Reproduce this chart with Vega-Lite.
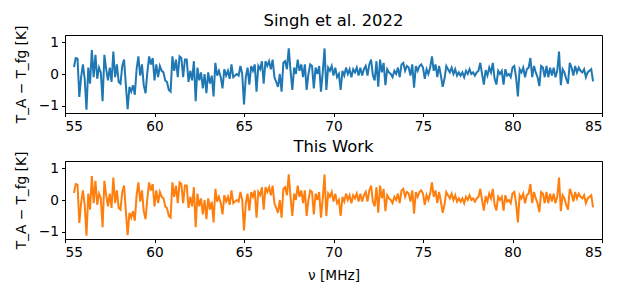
{
  "$schema": "https://vega.github.io/schema/vega-lite/v6.json",
  "padding": {"left": 13, "top": 12, "right": 5, "bottom": 5},
  "config": {
    "font": "DejaVu Sans",
    "background": "white",
    "view": {"stroke": "black", "strokeWidth": 1},
    "axis": {"grid": false, "domainColor": "black", "tickColor": "black", "labelColor": "black", "titleColor": "black", "labelFontSize": 13.7, "titleFontSize": 13.7, "titleFontWeight": "normal", "tickSize": 3.5, "labelPadding": 3, "domainWidth": 1, "tickWidth": 1},
    "title": {"fontSize": 16.4, "fontWeight": "normal", "color": "black", "offset": -4},
    "concat": {"spacing": 4}
  },
  "datasets": {
    "d": [
      {"nu":55.5,"v":0.22},{"nu":55.6,"v":0.5},{"nu":55.7,"v":0.48},{"nu":55.8,"v":-0.72},{"nu":55.9,"v":-0.1},{"nu":56.0,"v":0.3},{"nu":56.1,"v":-0.15},{"nu":56.2,"v":-1.12},{"nu":56.3,"v":0.2},{"nu":56.4,"v":-0.3},
      {"nu":56.5,"v":0.75},{"nu":56.6,"v":-0.1},{"nu":56.7,"v":0.6},{"nu":56.8,"v":-0.15},{"nu":56.9,"v":0.2},{"nu":57.0,"v":0.05},{"nu":57.1,"v":-0.85},{"nu":57.2,"v":0.6},{"nu":57.3,"v":0.15},{"nu":57.4,"v":-0.2},
      {"nu":57.5,"v":0.2},{"nu":57.6,"v":-0.25},{"nu":57.7,"v":0.7},{"nu":57.8,"v":-0.1},{"nu":57.9,"v":0.3},{"nu":58.0,"v":-0.25},{"nu":58.1,"v":-0.3},{"nu":58.2,"v":0.25},{"nu":58.3,"v":0.45},{"nu":58.4,"v":-0.35},
      {"nu":58.5,"v":-1.1},{"nu":58.6,"v":-0.4},{"nu":58.7,"v":-0.55},{"nu":58.8,"v":-0.35},{"nu":58.9,"v":-0.65},{"nu":59.0,"v":0.15},{"nu":59.1,"v":0.55},{"nu":59.2,"v":-0.05},{"nu":59.3,"v":0.3},{"nu":59.4,"v":-0.35},
      {"nu":59.5,"v":-0.6},{"nu":59.6,"v":0.05},{"nu":59.7,"v":0.55},{"nu":59.8,"v":0.3},{"nu":59.9,"v":0.5},{"nu":60.0,"v":-0.2},{"nu":60.1,"v":0.3},{"nu":60.2,"v":-0.1},{"nu":60.3,"v":0.25},{"nu":60.4,"v":0.1},
      {"nu":60.5,"v":0.05},{"nu":60.6,"v":-0.2},{"nu":60.7,"v":-0.25},{"nu":60.8,"v":-0.5},{"nu":60.9,"v":-0.55},{"nu":61.0,"v":0.55},{"nu":61.1,"v":0.1},{"nu":61.2,"v":0.45},{"nu":61.3,"v":-0.1},{"nu":61.4,"v":0.55},
      {"nu":61.5,"v":0.5},{"nu":61.6,"v":-0.1},{"nu":61.7,"v":0.45},{"nu":61.8,"v":0.45},{"nu":61.9,"v":-0.25},{"nu":62.0,"v":0.1},{"nu":62.1,"v":-0.2},{"nu":62.2,"v":0.4},{"nu":62.3,"v":-0.85},{"nu":62.4,"v":0.2},
      {"nu":62.5,"v":-0.2},{"nu":62.6,"v":0.05},{"nu":62.7,"v":-0.45},{"nu":62.8,"v":0.0},{"nu":62.9,"v":-0.6},{"nu":63.0,"v":0.05},{"nu":63.1,"v":-0.3},{"nu":63.2,"v":-0.05},{"nu":63.3,"v":-0.7},{"nu":63.4,"v":0.35},
      {"nu":63.5,"v":-0.05},{"nu":63.6,"v":0.1},{"nu":63.7,"v":-0.1},{"nu":63.8,"v":-0.45},{"nu":63.9,"v":0.15},{"nu":64.0,"v":-0.05},{"nu":64.1,"v":0.1},{"nu":64.2,"v":-0.15},{"nu":64.3,"v":0.3},{"nu":64.4,"v":-0.1},
      {"nu":64.5,"v":-0.05},{"nu":64.6,"v":0.0},{"nu":64.7,"v":-0.05},{"nu":64.8,"v":0.25},{"nu":64.9,"v":0.0},{"nu":65.0,"v":-0.95},{"nu":65.1,"v":-0.1},{"nu":65.2,"v":0.2},{"nu":65.3,"v":-0.33},{"nu":65.4,"v":0.25},
      {"nu":65.5,"v":0.1},{"nu":65.6,"v":0.3},{"nu":65.7,"v":-0.55},{"nu":65.8,"v":0.25},{"nu":65.9,"v":0.15},{"nu":66.0,"v":0.4},{"nu":66.1,"v":-0.3},{"nu":66.2,"v":0.4},{"nu":66.3,"v":0.25},{"nu":66.4,"v":0.4},
      {"nu":66.5,"v":0.15},{"nu":66.6,"v":0.45},{"nu":66.7,"v":-0.1},{"nu":66.8,"v":-0.25},{"nu":66.9,"v":-0.4},{"nu":67.0,"v":0.0},{"nu":67.1,"v":-0.55},{"nu":67.2,"v":0.35},{"nu":67.3,"v":0.4},{"nu":67.4,"v":0.15},
      {"nu":67.5,"v":0.8},{"nu":67.6,"v":0.1},{"nu":67.7,"v":-0.5},{"nu":67.8,"v":0.2},{"nu":67.9,"v":0.0},{"nu":68.0,"v":0.45},{"nu":68.1,"v":0.1},{"nu":68.2,"v":0.3},{"nu":68.3,"v":-0.1},{"nu":68.4,"v":0.3},
      {"nu":68.5,"v":-0.5},{"nu":68.6,"v":0.0},{"nu":68.7,"v":0.3},{"nu":68.8,"v":0.25},{"nu":68.9,"v":-0.45},{"nu":69.0,"v":0.2},{"nu":69.1,"v":0.0},{"nu":69.2,"v":0.25},{"nu":69.3,"v":-0.55},{"nu":69.4,"v":0.05},
      {"nu":69.5,"v":0.8},{"nu":69.6,"v":-0.5},{"nu":69.7,"v":0.2},{"nu":69.8,"v":0.1},{"nu":69.9,"v":0.25},{"nu":70.0,"v":-0.05},{"nu":70.1,"v":0.2},{"nu":70.2,"v":-0.1},{"nu":70.3,"v":0.0},{"nu":70.4,"v":-0.5},
      {"nu":70.5,"v":0.1},{"nu":70.6,"v":-0.05},{"nu":70.7,"v":0.2},{"nu":70.8,"v":0.0},{"nu":70.9,"v":0.15},{"nu":71.0,"v":-0.1},{"nu":71.1,"v":0.15},{"nu":71.2,"v":0.05},{"nu":71.3,"v":0.2},{"nu":71.4,"v":-0.05},
      {"nu":71.5,"v":0.2},{"nu":71.6,"v":-0.05},{"nu":71.7,"v":0.15},{"nu":71.8,"v":0.25},{"nu":71.9,"v":-0.05},{"nu":72.0,"v":0.3},{"nu":72.1,"v":0.45},{"nu":72.2,"v":-0.05},{"nu":72.3,"v":-0.2},{"nu":72.4,"v":0.4},
      {"nu":72.5,"v":-0.4},{"nu":72.6,"v":0.45},{"nu":72.7,"v":0.05},{"nu":72.8,"v":0.35},{"nu":72.9,"v":-0.35},{"nu":73.0,"v":0.15},{"nu":73.1,"v":0.05},{"nu":73.2,"v":0.0},{"nu":73.3,"v":-0.1},{"nu":73.4,"v":0.1},
      {"nu":73.5,"v":0.0},{"nu":73.6,"v":0.2},{"nu":73.7,"v":-0.1},{"nu":73.8,"v":0.3},{"nu":73.9,"v":0.35},{"nu":74.0,"v":0.1},{"nu":74.1,"v":0.25},{"nu":74.2,"v":0.2},{"nu":74.3,"v":-0.05},{"nu":74.4,"v":0.3},
      {"nu":74.5,"v":-0.43},{"nu":74.6,"v":0.25},{"nu":74.7,"v":0.1},{"nu":74.8,"v":0.25},{"nu":74.9,"v":0.3},{"nu":75.0,"v":0.2},{"nu":75.1,"v":-0.15},{"nu":75.2,"v":0.15},{"nu":75.3,"v":0.0},{"nu":75.4,"v":0.2},
      {"nu":75.5,"v":0.55},{"nu":75.6,"v":0.1},{"nu":75.7,"v":0.3},{"nu":75.8,"v":-0.1},{"nu":75.9,"v":0.25},{"nu":76.0,"v":-0.05},{"nu":76.1,"v":-0.4},{"nu":76.2,"v":-0.15},{"nu":76.3,"v":0.25},{"nu":76.4,"v":0.15},
      {"nu":76.5,"v":0.05},{"nu":76.6,"v":0.2},{"nu":76.7,"v":0.0},{"nu":76.8,"v":0.15},{"nu":76.9,"v":-0.05},{"nu":77.0,"v":0.05},{"nu":77.1,"v":-0.05},{"nu":77.2,"v":0.05},{"nu":77.3,"v":-0.1},{"nu":77.4,"v":0.1},
      {"nu":77.5,"v":0.0},{"nu":77.6,"v":0.15},{"nu":77.7,"v":0.0},{"nu":77.8,"v":0.05},{"nu":77.9,"v":-0.05},{"nu":78.0,"v":0.05},{"nu":78.1,"v":0.1},{"nu":78.2,"v":0.35},{"nu":78.3,"v":0.0},{"nu":78.4,"v":-0.33},
      {"nu":78.5,"v":0.12},{"nu":78.6,"v":-0.05},{"nu":78.7,"v":0.2},{"nu":78.8,"v":0.05},{"nu":78.9,"v":0.35},{"nu":79.0,"v":-0.15},{"nu":79.1,"v":-0.33},{"nu":79.2,"v":0.1},{"nu":79.3,"v":0.0},{"nu":79.4,"v":0.1},
      {"nu":79.5,"v":-0.33},{"nu":79.6,"v":0.15},{"nu":79.7,"v":-0.05},{"nu":79.8,"v":0.0},{"nu":79.9,"v":-0.1},{"nu":80.0,"v":0.2},{"nu":80.1,"v":0.25},{"nu":80.2,"v":-0.1},{"nu":80.3,"v":-0.7},{"nu":80.4,"v":0.15},
      {"nu":80.5,"v":0.05},{"nu":80.6,"v":0.2},{"nu":80.7,"v":-0.1},{"nu":80.8,"v":0.15},{"nu":80.9,"v":0.2},{"nu":81.0,"v":0.5},{"nu":81.1,"v":-0.1},{"nu":81.2,"v":0.25},{"nu":81.3,"v":0.05},{"nu":81.4,"v":-0.1},
      {"nu":81.5,"v":-0.38},{"nu":81.6,"v":0.25},{"nu":81.7,"v":0.2},{"nu":81.8,"v":-0.1},{"nu":81.9,"v":0.25},{"nu":82.0,"v":-0.1},{"nu":82.1,"v":0.2},{"nu":82.2,"v":-0.05},{"nu":82.3,"v":0.2},{"nu":82.4,"v":-0.1},
      {"nu":82.5,"v":0.1},{"nu":82.6,"v":0.7},{"nu":82.7,"v":-0.35},{"nu":82.8,"v":0.15},{"nu":82.9,"v":0.05},{"nu":83.0,"v":-0.15},{"nu":83.1,"v":-0.3},{"nu":83.2,"v":0.35},{"nu":83.3,"v":0.2},{"nu":83.4,"v":-0.05},
      {"nu":83.5,"v":0.25},{"nu":83.6,"v":0.05},{"nu":83.7,"v":0.2},{"nu":83.8,"v":0.1},{"nu":83.9,"v":0.05},{"nu":84.0,"v":0.15},{"nu":84.1,"v":-0.1},{"nu":84.2,"v":0.05},{"nu":84.3,"v":0.1},{"nu":84.4,"v":0.15},
      {"nu":84.5,"v":-0.23}
    ]
  },
  "data": {"name": "d"},
  "vconcat": [
    {
      "title": "Singh et al. 2022",
      "width": 537,
      "height": 78,
      "mark": {"type": "line", "color": "#1f77b4", "strokeWidth": 2, "clip": true},
      "encoding": {
        "x": {"field": "nu", "type": "quantitative", "scale": {"domain": [55, 85], "nice": false, "zero": false}, "axis": {"values": [55, 60, 65, 70, 75, 80, 85], "title": null}},
        "y": {"field": "v", "type": "quantitative", "scale": {"domain": [-1.22, 1.22], "nice": false}, "axis": {"values": [-1, 0, 1], "title": "T_A − T_fg [K]", "titlePadding": 10}}
      }
    },
    {
      "title": "This Work",
      "width": 537,
      "height": 78,
      "mark": {"type": "line", "color": "#ff7f0e", "strokeWidth": 2, "clip": true},
      "encoding": {
        "x": {"field": "nu", "type": "quantitative", "scale": {"domain": [55, 85], "nice": false, "zero": false}, "axis": {"values": [55, 60, 65, 70, 75, 80, 85], "title": "ν [MHz]", "titlePadding": 9}},
        "y": {"field": "v", "type": "quantitative", "scale": {"domain": [-1.22, 1.22], "nice": false}, "axis": {"values": [-1, 0, 1], "title": "T_A − T_fg [K]", "titlePadding": 10}}
      }
    }
  ]
}
